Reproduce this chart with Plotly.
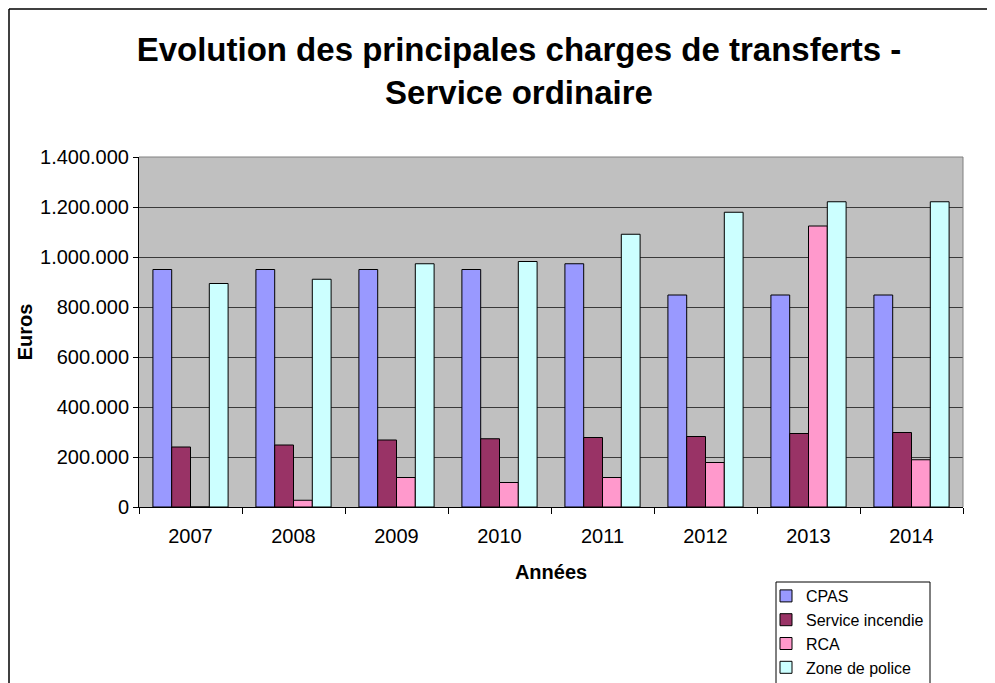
import plotly.graph_objects as go

years = ["2007", "2008", "2009", "2010", "2011", "2012", "2013", "2014"]

cpas = [950000, 950000, 950000, 950000, 973000, 848000, 848000, 848000]
incendie = [240000, 248000, 268000, 273000, 278000, 282000, 294000, 298000]
rca = [0, 27000, 118000, 98000, 118000, 178000, 1124000, 189000]
police = [894000, 911000, 973000, 982000, 1091000, 1179000, 1221000, 1221000]

series = [
    ("CPAS", cpas, "#9999FF"),
    ("Service incendie", incendie, "#993366"),
    ("RCA", rca, "#FF99CC"),
    ("Zone de police", police, "#CCFFFF"),
]

fig = go.Figure()
for name, vals, col in series:
    fig.add_trace(go.Bar(
        x=years, y=vals, name=name,
        marker=dict(color=col, line=dict(color="black", width=1)),
    ))

font = "Liberation Sans, Arial, sans-serif"

# page body has an 8px margin, so the figure is 8px smaller and shifted
W, H = 987, 675


def px_x(x):
    # screenshot pixel -> paper x (plot area 139..963)
    return (x - 139) / 824


def px_y(y):
    # screenshot pixel -> paper y (plot area 157..507)
    return (507 - y) / 350


fig.update_layout(
    width=W, height=H,
    margin=dict(l=131, r=32, t=149, b=176, autoexpand=False),
    paper_bgcolor="white",
    plot_bgcolor="#C0C0C0",
    barmode="group",
    bargap=0.27,
    bargroupgap=0,
    separators=",.",
    font=dict(family=font, size=20, color="black"),
    title=dict(
        text="<b>Evolution des principales charges de transferts -<br>Service ordinaire</b>",
        font=dict(size=33, family=font, color="black"),
        x=(519 - 8) / W, xanchor="center",
        y=1 - (61 - 8) / H, yanchor="middle", yref="container",
    ),
    legend=dict(
        x=px_x(766), xanchor="left",
        y=px_y(579), yanchor="top",
        borderwidth=0,
        bgcolor="rgba(0,0,0,0)",
        font=dict(size=16, family=font),
        itemwidth=30,
        traceorder="normal",
    ),
    showlegend=True,
)

fig.update_xaxes(
    showline=True, linecolor="black", linewidth=1,
    ticks="outside", tickson="boundaries", ticklen=6, tickcolor="black",
    ticklabelstandoff=11,
    showgrid=False,
    title=dict(text="<b>Années</b>", font=dict(size=20), standoff=18),
)

fig.update_yaxes(
    range=[0, 1400000], dtick=200000, tickformat=",d",
    showline=True, linecolor="black", linewidth=1,
    ticks="outside", ticklen=5, tickcolor="black",
    showgrid=True, gridcolor="#3a3a3a", gridwidth=1,
    zeroline=False,
    title=dict(text="<b>Euros</b>", font=dict(size=20), standoff=2),
)

# plot area outline (gray, top and right)
fig.add_shape(type="line", xref="x domain", yref="y domain", x0=0, x1=1, y0=1, y1=1,
              line=dict(color="#808080", width=1))
fig.add_shape(type="line", xref="x domain", yref="y domain", x0=1, x1=1, y0=0, y1=1,
              line=dict(color="#808080", width=1))

# legend box
fig.add_shape(type="rect", xref="paper", yref="paper",
              x0=px_x(776), x1=px_x(930), y0=px_y(582), y1=px_y(700),
              line=dict(color="black", width=1), fillcolor="white", layer="above")

# chart frame (top and left edges visible)
fig.add_shape(type="line", xref="paper", yref="paper",
              x0=px_x(9), x1=px_x(992), y0=px_y(9), y1=px_y(9),
              line=dict(color="black", width=1.5))
fig.add_shape(type="line", xref="paper", yref="paper",
              x0=px_x(9), x1=px_x(9), y0=px_y(9), y1=px_y(690),
              line=dict(color="black", width=1.5))

fig.write_html("out.html")
